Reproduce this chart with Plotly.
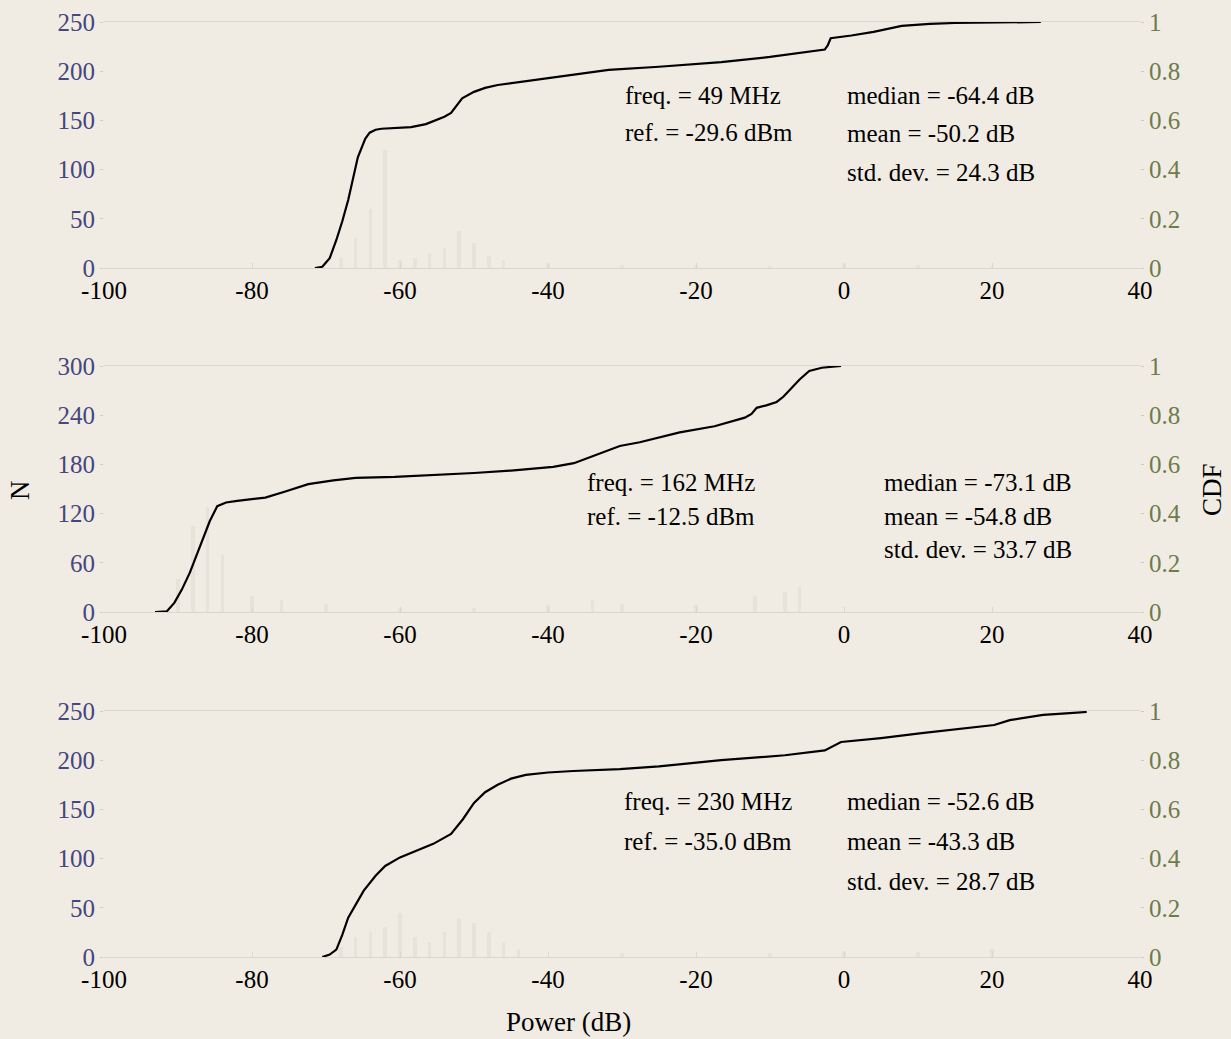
import plotly.graph_objects as go

# ---------------- data ----------------
x_range = [-100, 40]
x_ticks = [-100, -80, -60, -40, -20, 0, 20, 40]

# panel 1 : 49 MHz
cdf1_x = [-71.5, -70.5, -69.5, -68.6, -67.8, -67.0, -65.7, -64.7, -64.1, -63.3, -62.5, -60.5, -58.5,
          -56.5, -55.3, -54.0, -53.1, -52.3, -51.6, -50.0, -48.5, -46.8, -43.0, -39.3, -35.5, -31.8,
          -25.0, -16.6, -10.0, -5.0, -2.6, -2.2, -1.8, 1.0, 4.0, 7.8, 11.6, 15.0, 20.0, 26.6]
cdf1_y = [0, 0.005, 0.04, 0.114, 0.19, 0.276, 0.45, 0.525, 0.55, 0.562, 0.566, 0.570, 0.573,
          0.585, 0.60, 0.615, 0.63, 0.66, 0.69, 0.716, 0.732, 0.744, 0.76, 0.776, 0.79, 0.805,
          0.818, 0.837, 0.858, 0.878, 0.888, 0.905, 0.934, 0.945, 0.96, 0.984, 0.992, 0.996, 0.998, 1.0]
hist1_x = [-68, -66, -64, -62, -60, -58, -56, -54, -52, -50, -48, -46, -40, -30, -20, -10, 0, 10, 20]
hist1_n = [10, 30, 60, 120, 8, 10, 15, 20, 38, 25, 12, 8, 4, 3, 3, 2, 4, 3, 2]

# panel 2 : 162 MHz
cdf2_x = [-93.1, -91.5, -90.5, -89.5, -88.4, -87.5, -86.8, -85.7, -84.7, -83.5, -82.0, -80.0, -78.2,
          -75.5, -72.4, -69.0, -66.0, -60.7, -55.0, -50.0, -45.0, -41.0, -39.3, -36.5, -33.9, -30.3,
          -27.6, -22.2, -17.5, -13.4, -12.5, -11.8, -10.5, -9.1, -8.2, -7.4, -6.0, -4.7, -3.0, -0.4]
cdf2_y = [0, 0.003, 0.037, 0.09, 0.16, 0.23, 0.29, 0.37, 0.43, 0.445, 0.452, 0.458, 0.465,
          0.49, 0.52, 0.535, 0.545, 0.549, 0.556, 0.565, 0.575, 0.585, 0.59, 0.605, 0.635, 0.675,
          0.69, 0.73, 0.755, 0.79, 0.805, 0.83, 0.84, 0.854, 0.875, 0.90, 0.945, 0.98, 0.993, 1.0]
hist2_x = [-90, -88, -86, -84, -80, -76, -70, -60, -50, -40, -34, -30, -20, -12, -8, -6]
hist2_n = [40, 105, 128, 70, 20, 15, 10, 5, 5, 8, 15, 10, 8, 20, 25, 30]

# panel 3 : 230 MHz
cdf3_x = [-70.5, -69.5, -68.6, -67.8, -67.0, -64.9, -63.3, -62.0, -60.0, -58.0, -55.5, -53.1,
          -51.5, -50.0, -48.5, -46.8, -45.0, -43.0, -40.0, -36.6, -30.3, -25.0, -16.6, -8.0,
          -2.6, -0.4, 5.0, 10.5, 15.0, 20.3, 22.4, 25.0, 26.9, 30.0, 32.8]
cdf3_y = [0, 0.01, 0.03, 0.09, 0.16, 0.27, 0.33, 0.37, 0.405, 0.43, 0.46, 0.50,
          0.56, 0.626, 0.67, 0.70, 0.725, 0.74, 0.75, 0.756, 0.764, 0.775, 0.80, 0.82,
          0.84, 0.874, 0.89, 0.91, 0.925, 0.943, 0.963, 0.975, 0.984, 0.99, 0.996]
hist3_x = [-68, -66, -64, -62, -60, -58, -56, -54, -52, -50, -48, -46, -44, -30, -10, 0, 10, 20]
hist3_n = [10, 20, 25, 30, 45, 20, 15, 25, 40, 35, 25, 15, 8, 4, 4, 6, 5, 8]

n_ticks = [[0, 50, 100, 150, 200, 250], [0, 60, 120, 180, 240, 300], [0, 50, 100, 150, 200, 250]]
n_max = [250, 300, 250]
cdf_ticks = [0, 0.2, 0.4, 0.6, 0.8, 1]
cdf_labels = ["0", "0.2", "0.4", "0.6", "0.8", "1"]

left_texts = [["freq. = 49 MHz", "ref. = -29.6 dBm"],
              ["freq. = 162 MHz", "ref. = -12.5 dBm"],
              ["freq. = 230 MHz", "ref. = -35.0 dBm"]]
right_texts = [["median = -64.4 dB", "mean = -50.2 dB", "std. dev. = 24.3 dB"],
               ["median = -73.1 dB", "mean = -54.8 dB", "std. dev. = 33.7 dB"],
               ["median = -52.6 dB", "mean = -43.3 dB", "std. dev. = 28.7 dB"]]

# ---------------- layout helpers ----------------
W, H = 1231, 1039
BG = "#f0ece3"
FONT = "Liberation Serif"
LEFT_COL = "#45477e"
RIGHT_COL = "#6e7b4c"
HIST_COL = "#e7e3da"

x_dom = [104 / W, 1140 / W]
panels_px = [(22, 268), (366, 612), (711, 957)]  # top, bottom in pixels
y_doms = [[1 - b / H, 1 - t / H] for t, b in panels_px]

# text positions in pixels (x, first-line y, line step)
left_pos = [(623, 95, 38), (585, 483, 33), (622, 801, 40)]
right_pos = [(845, 95, 39), (882, 483, 33), (845, 801, 40)]

cdfs = [(cdf1_x, cdf1_y), (cdf2_x, cdf2_y), (cdf3_x, cdf3_y)]
hists = [(hist1_x, hist1_n), (hist2_x, hist2_n), (hist3_x, hist3_n)]

fig = go.Figure()
layout = {}
annotations = []

for i in range(3):
    xa = f"x{i + 1}" if i else "x"
    ya_l = f"y{2 * i + 1}" if i else "y"
    ya_r = f"y{2 * i + 2}"
    hx, hn = hists[i]
    fig.add_trace(go.Bar(x=hx, y=hn, width=0.5, marker=dict(color=HIST_COL, line=dict(width=0)),
                         xaxis=xa, yaxis=ya_l, showlegend=False))
    cx, cy = cdfs[i]
    fig.add_trace(go.Scatter(x=cx, y=cy, mode="lines", line=dict(color="black", width=2.2),
                             xaxis=xa, yaxis=ya_r, showlegend=False))

    xkey = f"xaxis{i + 1}" if i else "xaxis"
    ylkey = f"yaxis{2 * i + 1}" if i else "yaxis"
    yrkey = f"yaxis{2 * i + 2}"
    layout[xkey] = dict(domain=x_dom, range=x_range, anchor=ya_l, tickvals=x_ticks,
                        ticktext=[str(v) for v in x_ticks], showgrid=False, zeroline=False,
                        showline=True, mirror=True, linecolor="#dbd7ce", linewidth=1,
                        ticks="inside", ticklen=5, tickcolor="#dbd7ce", automargin=False,
                        tickfont=dict(family=FONT, size=25, color="black"))
    layout[ylkey] = dict(domain=y_doms[i], range=[0, n_max[i]], anchor=xa, tickvals=n_ticks[i],
                         showgrid=False, zeroline=False, showline=False, automargin=False,
                         ticks="outside", ticklen=3, tickcolor="#cfcbc3",
                         tickfont=dict(family=FONT, size=25, color=LEFT_COL))
    layout[yrkey] = dict(domain=y_doms[i], range=[0, 1], anchor=xa, overlaying=ya_l, side="right",
                         tickvals=cdf_ticks, ticktext=cdf_labels, showgrid=False, zeroline=False,
                         showline=False, ticks="outside", ticklen=3, tickcolor="#cfcbc3",
                         automargin=False,
                         tickfont=dict(family=FONT, size=25, color=RIGHT_COL))

    lx, ly, ls = left_pos[i]
    for k, t in enumerate(left_texts[i]):
        annotations.append(dict(x=lx / W, y=1 - (ly + k * ls) / H, xref="paper", yref="paper",
                                text=t, showarrow=False, xanchor="left", yanchor="middle",
                                font=dict(family=FONT, size=25, color="black")))
    rx, ry, rs = right_pos[i]
    for k, t in enumerate(right_texts[i]):
        annotations.append(dict(x=rx / W, y=1 - (ry + k * rs) / H, xref="paper", yref="paper",
                                text=t, showarrow=False, xanchor="left", yanchor="middle",
                                font=dict(family=FONT, size=25, color="black")))

annotations.append(dict(x=568 / W, y=1 - 1022 / H, xref="paper", yref="paper", text="Power (dB)",
                        showarrow=False, xanchor="center", yanchor="middle",
                        font=dict(family=FONT, size=27, color="black")))
annotations.append(dict(x=20 / W, y=1 - 490 / H, xref="paper", yref="paper", text="N",
                        showarrow=False, textangle=-90, xanchor="center", yanchor="middle",
                        font=dict(family=FONT, size=27, color="black")))
annotations.append(dict(x=1212 / W, y=1 - 490 / H, xref="paper", yref="paper", text="CDF",
                        showarrow=False, textangle=-90, xanchor="center", yanchor="middle",
                        font=dict(family=FONT, size=27, color="black")))

fig.update_layout(width=W, height=H, margin=dict(l=0, r=0, t=0, b=0, pad=0),
                  paper_bgcolor=BG, plot_bgcolor=BG, bargap=0, annotations=annotations,
                  **layout)

fig.write_html("out.html", config={"displayModeBar": False},
               post_script="document.body.style.margin='0';document.body.style.padding='0';"
                           "document.body.style.background='" + BG + "';"
                           "document.body.style.overflow='hidden';")
